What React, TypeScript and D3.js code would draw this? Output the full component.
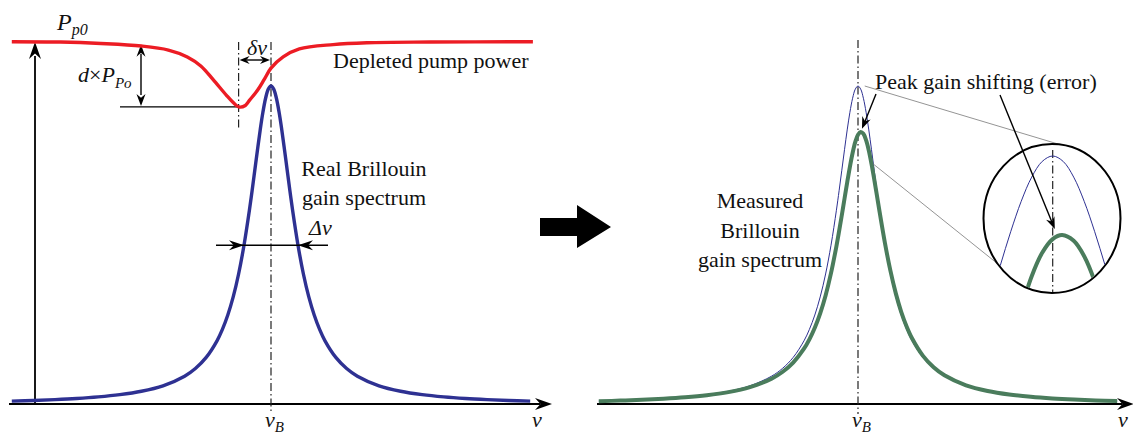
import React from "react";
import * as d3 from "d3";

const W = 1133;
const H = 435;

// Frequency offset from the Brillouin shift (arbitrary units)
const freq = [-96, -88, -80, -72, -64, -56, -48, -40, -32, -28, -24, -20, -18, -16, -14, -12, -10, -8, -7, -6, -5, -4, -3, -2, -1, 0, 1, 2, 3, 4, 5, 6, 7, 8, 10, 12, 14, 16, 18, 20, 24, 28, 32, 40, 48, 56, 64, 72, 80, 88, 96];
// Real Brillouin gain spectrum (normalised)
const realGain = [0.0107, 0.0127, 0.0154, 0.0189, 0.0238, 0.0309, 0.0416, 0.0588, 0.089, 0.1131, 0.1479, 0.2, 0.2358, 0.2809, 0.3378, 0.4098, 0.5, 0.6098, 0.6711, 0.7353, 0.8, 0.8621, 0.9174, 0.9615, 0.9901, 1, 0.9901, 0.9615, 0.9174, 0.8621, 0.8, 0.7353, 0.6711, 0.6098, 0.5, 0.4098, 0.3378, 0.2809, 0.2358, 0.2, 0.1479, 0.1131, 0.089, 0.0588, 0.0416, 0.0309, 0.0238, 0.0189, 0.0154, 0.0127, 0.0107];
// Measured (distorted) Brillouin gain spectrum
const measuredGain = [0.0103, 0.0122, 0.0147, 0.018, 0.0225, 0.029, 0.0388, 0.0544, 0.081, 0.102, 0.1316, 0.1751, 0.2045, 0.2409, 0.2862, 0.3425, 0.4123, 0.4967, 0.5442, 0.5943, 0.646, 0.6975, 0.7464, 0.7897, 0.8243, 0.8471, 0.8559, 0.85, 0.8298, 0.7974, 0.7556, 0.7076, 0.6564, 0.6046, 0.5059, 0.4201, 0.3489, 0.2912, 0.245, 0.2078, 0.1534, 0.1169, 0.0917, 0.0602, 0.0424, 0.0313, 0.0241, 0.0191, 0.0155, 0.0128, 0.0108];

// Depleted pump power
const pumpFreq = [-96, -78, -63, -48, -38, -31, -26, -21.5, -16.5, -14, -12, -9.5, -8, -5, -2.5, 0, 4.5, 10.5, 23, 35.5, 59, 97];
const pumpPower = [1.0, 0.999, 0.995, 0.988, 0.977, 0.958, 0.933, 0.896, 0.852, 0.832, 0.82, 0.824, 0.838, 0.866, 0.896, 0.927, 0.958, 0.98, 0.992, 0.997, 0.999, 1.0];
const pumpDipFreq = -12;
const pumpDipPower = 0.82;

// Magnified peak region of the measured spectrum
const zoomFreq = [-3, -2, -1, 0, 0.9, 2, 3, 4, 5];
const zoomMeasured = [0.7215, 0.7811, 0.8238, 0.8487, 0.856, 0.8455, 0.8174, 0.7716, 0.7081];
const measuredPeakFreq = 1.1;
const measuredPeakGain = 0.856;

const FONT = "'Liberation Serif', 'Times New Roman', serif";
const BLUE = "#2e3192";
const RED = "#ec1c24";
const GREEN = "#4a7c5c";

const xL = d3.scaleLinear().domain([-100, 100]).range([1, 541]);
const xR = d3.scaleLinear().domain([-100, 100]).range([588, 1128]);
const yGain = d3.scaleLinear().domain([0, 1]).range([404.5, 86]);
const yPump = d3.scaleLinear().domain([0, 1]).range([404, 41.7]);

// inset (magnifier) scales
const ZC = { cx: 1052, cy: 218.5, rx: 68.5, ry: 74.5 };
const xI = d3.scaleLinear().domain([-6, 6]).range([989.7, 1115.7]);
const yI = d3.scaleLinear().domain([0.7, 1]).range([320.7, 156]);

const AXIS_Y = 404;

type Pt = [number, number];

function head(tx: number, ty: number, ang: number, len = 12, hw = 4.5): string {
  const c = Math.cos(ang);
  const s = Math.sin(ang);
  const p = (a: number, b: number): Pt => [tx + a * c - b * s, ty + a * s + b * c];
  const pts = [p(0, 0), p(-len, hw), p(-len * 0.68, 0), p(-len, -hw)];
  return "M" + pts.map((q) => q.join(",")).join("L") + "Z";
}

function Arrow({ x1, y1, x2, y2, len = 12, hw = 4.5, w = 1.4 }: { x1: number; y1: number; x2: number; y2: number; len?: number; hw?: number; w?: number }) {
  const ang = Math.atan2(y2 - y1, x2 - x1);
  return (
    <g>
      <line x1={x1} y1={y1} x2={x2 - Math.cos(ang) * len * 0.6} y2={y2 - Math.sin(ang) * len * 0.6} stroke="#000" strokeWidth={w} />
      <path d={head(x2, y2, ang, len, hw)} fill="#000" />
    </g>
  );
}

const T = ({ children, ...rest }: any) => (
  <text style={{ fontFamily: FONT }} fill="#111" {...rest}>
    {children}
  </text>
);

export default function App() {
  const lineL = d3
    .line<number>()
    .x((_, i) => xL(freq[i]))
    .y((g) => yGain(g))
    .curve(d3.curveCatmullRom.alpha(0.5));
  const lineR = d3
    .line<number>()
    .x((_, i) => xR(freq[i]))
    .y((g) => yGain(g))
    .curve(d3.curveCatmullRom.alpha(0.5));
  const pumpLine = d3
    .line<number>()
    .x((_, i) => xL(pumpFreq[i]))
    .y((p) => yPump(p))
    .curve(d3.curveCatmullRom.alpha(0.5));

  const insetIdx = freq.map((f, i) => i).filter((i) => Math.abs(freq[i]) <= 6);
  const insetBlue = d3
    .line<number>()
    .x((i) => xI(freq[i]))
    .y((i) => yI(realGain[i]))
    .curve(d3.curveCatmullRom.alpha(0.5))(insetIdx);
  const insetGreen = d3
    .line<number>()
    .x((_, i) => xI(zoomFreq[i]))
    .y((g) => yI(g))
    .curve(d3.curveCatmullRom.alpha(0.5))(zoomMeasured);

  const dashDot = "8,3,1.5,3";
  const halfGain = 0.5;
  const dipY = yPump(pumpDipPower);
  const topY = yPump(1);

  // connector from main peak region to magnifier
  const conn2Freq = 5.7;
  const conn2Gain = 1 / (1 + (conn2Freq / 10) ** 2);

  return (
    <svg width={W} height={H} style={{ position: "absolute", left: 0, top: 0, background: "#fff", fontFamily: FONT }}>
      <defs>
        <clipPath id="lens">
          <ellipse cx={ZC.cx} cy={ZC.cy} rx={ZC.rx - 1} ry={ZC.ry - 1} />
        </clipPath>
      </defs>

      {/* ---------- left panel ---------- */}
      {/* axes */}
      <line x1={9} y1={AXIS_Y} x2={540} y2={AXIS_Y} stroke="#000" strokeWidth={1.8} />
      <path d={head(552, AXIS_Y, 0, 17, 6)} fill="#000" />
      <line x1={35} y1={AXIS_Y} x2={35} y2={56} stroke="#000" strokeWidth={1.8} />
      <path d={head(35, 42, -Math.PI / 2, 17, 6)} fill="#000" />

      {/* dash-dot guides */}
      <line x1={xL(0)} y1={42} x2={xL(0)} y2={414} stroke="#222" strokeWidth={1.2} strokeDasharray={dashDot} />
      <line x1={xL(pumpDipFreq)} y1={42} x2={xL(pumpDipFreq)} y2={128} stroke="#222" strokeWidth={1.2} strokeDasharray={dashDot} />

      {/* depth marker */}
      <line x1={120} y1={dipY} x2={xL(pumpDipFreq)} y2={dipY} stroke="#000" strokeWidth={1.4} />
      <line x1={141} y1={topY + 12} x2={141} y2={dipY - 12} stroke="#000" strokeWidth={1.4} />
      <path d={head(141, topY + 3, -Math.PI / 2, 12, 4.5)} fill="#000" />
      <path d={head(141, dipY - 1, Math.PI / 2, 12, 4.5)} fill="#000" />

      {/* delta nu marker */}
      <line x1={xL(pumpDipFreq) + 8} y1={60} x2={xL(0) - 8} y2={60} stroke="#000" strokeWidth={1.4} />
      <path d={head(xL(pumpDipFreq) + 1, 60, Math.PI, 10, 4)} fill="#000" />
      <path d={head(xL(0) - 1, 60, 0, 10, 4)} fill="#000" />

      {/* curves */}
      <path d={pumpLine(pumpPower) || ""} fill="none" stroke={RED} strokeWidth={3.4} />
      <path d={lineL(realGain) || ""} fill="none" stroke={BLUE} strokeWidth={3.4} />

      {/* linewidth marker */}
      <line x1={216} y1={yGain(halfGain)} x2={328} y2={yGain(halfGain)} stroke="#000" strokeWidth={1.6} />
      <path d={head(xL(-10), yGain(halfGain), 0, 15, 5)} fill="#000" />
      <path d={head(xL(10), yGain(halfGain), Math.PI, 15, 5)} fill="#000" />

      {/* labels */}
      <T x={57} y={30} fontSize={24} fontStyle="italic">
        P<tspan fontSize={16} dy={5}>p0</tspan>
      </T>
      <T x={78} y={82} fontSize={22}>
        <tspan fontStyle="italic">d</tspan>
        <tspan>×</tspan>
        <tspan fontStyle="italic">P</tspan>
        <tspan fontStyle="italic" fontSize={15} dy={6}>Po</tspan>
      </T>
      <T x={247} y={55} fontSize={22} fontStyle="italic">δν</T>
      <T x={333} y={68} fontSize={22}>Depleted pump power</T>
      <T x={364} y={176} fontSize={22} textAnchor="middle">Real Brillouin</T>
      <T x={364} y={205} fontSize={22} textAnchor="middle">gain spectrum</T>
      <T x={309} y={235} fontSize={22} fontStyle="italic">Δν</T>
      <T x={265} y={427} fontSize={22} fontStyle="italic">
        ν<tspan fontSize={15} dy={5}>B</tspan>
      </T>
      <T x={532} y={427} fontSize={22} fontStyle="italic">ν</T>

      {/* ---------- transition arrow ---------- */}
      <path d="M540,218 L577,218 L577,205 L611,227 L577,248 L577,236 L540,236 Z" fill="#000" />

      {/* ---------- right panel ---------- */}
      <line x1={597} y1={AXIS_Y} x2={1122} y2={AXIS_Y} stroke="#000" strokeWidth={1.8} />
      <path d={head(1134, AXIS_Y, 0, 17, 6)} fill="#000" />
      <line x1={xR(0)} y1={40} x2={xR(0)} y2={414} stroke="#222" strokeWidth={1.2} strokeDasharray={dashDot} />

      <path d={lineR(realGain) || ""} fill="none" stroke={BLUE} strokeWidth={1} />
      <path d={lineR(measuredGain) || ""} fill="none" stroke={GREEN} strokeWidth={4} />

      {/* connectors to magnifier */}
      <line x1={xR(2.5)} y1={yGain(1)} x2={ZC.cx + 6} y2={ZC.cy - ZC.ry} stroke="#888" strokeWidth={0.9} />
      <line x1={xR(conn2Freq)} y1={yGain(conn2Gain)} x2={xI(-5)} y2={yI(0.8)} stroke="#888" strokeWidth={0.9} />

      {/* magnifier */}
      <ellipse cx={ZC.cx} cy={ZC.cy} rx={ZC.rx} ry={ZC.ry} fill="#fff" stroke="#000" strokeWidth={2} />
      <g clipPath="url(#lens)">
        <line x1={xI(0)} y1={150} x2={xI(0)} y2={296} stroke="#222" strokeWidth={1.2} strokeDasharray={dashDot} />
        <path d={insetBlue || ""} fill="none" stroke={BLUE} strokeWidth={1} />
        <path d={insetGreen || ""} fill="none" stroke={GREEN} strokeWidth={4} />
      </g>

      {/* annotation */}
      <T x={875} y={89} fontSize={22}>Peak gain shifting (error)</T>
      <Arrow x1={876} y1={94} x2={xR(measuredPeakFreq) + 1} y2={yGain(measuredPeakGain) - 3} len={12} hw={4.5} />
      <Arrow x1={1000} y1={95} x2={xI(0.2)} y2={yI(measuredPeakGain) - 6} len={12} hw={4.5} />

      <T x={760} y={208} fontSize={22} textAnchor="middle">Measured</T>
      <T x={760} y={238} fontSize={22} textAnchor="middle">Brillouin</T>
      <T x={760} y={267} fontSize={22} textAnchor="middle">gain spectrum</T>

      <T x={852} y={427} fontSize={22} fontStyle="italic">
        ν<tspan fontSize={15} dy={5}>B</tspan>
      </T>
      <T x={1118} y={427} fontSize={22} fontStyle="italic">ν</T>
    </svg>
  );
}
